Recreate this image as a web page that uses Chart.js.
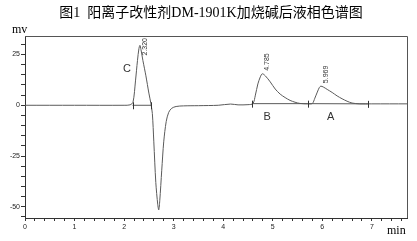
<!DOCTYPE html>
<html>
<head>
<meta charset="utf-8">
<script src="https://cdn.jsdelivr.net/npm/chart.js@4"></script>
<style>
  html, body { margin: 0; padding: 0; background: #fff; }
  #wrap { width: 417px; height: 241px; position: relative; }
</style>
</head>
<body>
<div id="wrap"><canvas id="chromChart" width="417" height="241"></canvas></div>
<script>
// 保留时间 (min) 与信号 (mv)
const times = [0, 1.0, 2.0, 2.12, 2.18, 2.23, 2.27, 2.30, 2.32, 2.34, 2.38, 2.44, 2.50, 2.54, 2.57,
  2.60, 2.64, 2.68, 2.70, 2.72, 2.76, 2.80, 2.85, 2.90, 2.96, 3.05, 3.2, 3.5, 3.9, 4.15, 4.3, 4.5,
  4.6, 4.65, 4.70, 4.75, 4.79, 4.85, 4.95, 5.05, 5.15, 5.25, 5.35, 5.45, 5.55, 5.7, 5.80, 5.85,
  5.90, 5.94, 5.97, 6.02, 6.10, 6.20, 6.30, 6.40, 6.50, 6.60, 6.75, 7.0, 7.71];
const signal = [0, 0, 0, 0.2, 1.5, 12, 22, 28, 29.5, 27.5, 22, 14.5, 6, 1, -4,
  -18, -38, -49, -51.5, -47, -32, -18, -8, -3.5, -1.5, -0.6, -0.3, -0.2, 0, 0.6, 0.2, 0.3,
  0.8, 5, 10.5, 14, 15.5, 14.5, 11.5, 8, 5.5, 3.8, 2.4, 1.5, 0.9, 0.7, 0.9, 3.5,
  6.5, 8.7, 9.4, 9.0, 7.8, 6.3, 4.6, 3.2, 2.0, 1.1, 0.7, 0.7, 0.7];

// 积分基线 (null = 断开)
const baseTimes = [2.17, 2.55, null, 4.58, 5.71, 6.92];
const baseValues = [0, 0, null, 0.8, 0.8, 0.7];

// 峰起止标记
const markerTimes = [2.17, 2.55, 4.58, 5.71, 6.92];
const markerValues = [0, 0, 0.8, 0.8, 0.7];

// 峰顶保留时间标注
const peakTimes = [2.32, 4.785, 5.969];
const peakValues = [29.5, 15.5, 9.4];
const peakTexts = ['2.320', '4.785', '5.969'];

// 峰名称
const nameTexts = ['C', 'B', 'A'];
const nameTimes = [2.06, 4.89, 6.17];
const nameValues = [17.9, -5.8, -5.8];

const title = '图1  阳离子改性剂DM-1901K加烧碱后液相色谱图';

const signalPoints = times.map((t, i) => ({ x: t, y: signal[i] }));
const basePoints = baseTimes.map((t, i) => (t === null ? { x: NaN, y: null } : { x: t, y: baseValues[i] }));

const isInt = v => Math.abs(v - Math.round(v)) < 1e-6;

const decorPlugin = {
  id: 'decor',
  afterDraw(chart) {
    const ctx = chart.ctx;
    const a = chart.chartArea;
    const xs = chart.scales.x, ys = chart.scales.y;
    ctx.save();

    // 上、右边框
    ctx.strokeStyle = '#555';
    ctx.lineWidth = 1;
    ctx.beginPath();
    ctx.moveTo(a.left, a.top + 0.5);
    ctx.lineTo(a.right + 0.5, a.top + 0.5);
    ctx.lineTo(a.right + 0.5, a.bottom);
    ctx.stroke();

    // 峰起止标记
    ctx.strokeStyle = '#333';
    markerTimes.forEach((t, i) => {
      const px = Math.round(xs.getPixelForValue(t)) + 0.5;
      const py = ys.getPixelForValue(markerValues[i]);
      ctx.beginPath();
      ctx.moveTo(px, py - 3);
      ctx.lineTo(px, py + 4);
      ctx.stroke();
    });

    // 保留时间 (竖排)
    ctx.fillStyle = '#333';
    ctx.font = '7px "Liberation Sans", Arial, sans-serif';
    ctx.textBaseline = 'middle';
    ctx.textAlign = 'left';
    peakTexts.forEach((txt, i) => {
      const px = xs.getPixelForValue(peakTimes[i]) + 5;
      let bottom = ys.getPixelForValue(peakValues[i]) - 3;
      const w = ctx.measureText(txt).width;
      if (bottom - w < a.top + 2) bottom = a.top + 2 + w;
      ctx.save();
      ctx.translate(px, bottom);
      ctx.rotate(-Math.PI / 2);
      ctx.fillText(txt, 0, 0);
      ctx.restore();
    });

    // 峰名称
    ctx.font = '11px "Liberation Sans", Arial, sans-serif';
    ctx.textAlign = 'center';
    nameTexts.forEach((txt, i) => {
      ctx.fillText(txt, xs.getPixelForValue(nameTimes[i]), ys.getPixelForValue(nameValues[i]));
    });

    // 标题与单位
    ctx.fillStyle = '#000';
    ctx.font = '14px "Liberation Serif", "Noto Sans CJK SC", serif';
    ctx.textAlign = 'center';
    ctx.fillText(title, 211, 13);
    ctx.font = '12px "Liberation Serif", serif';
    ctx.textAlign = 'left';
    ctx.fillText('mv', 12, 30);
    ctx.fillText('min', 387, 231);
    ctx.restore();
  }
};

new Chart(document.getElementById('chromChart'), {
  type: 'line',
  data: {
    datasets: [{
      label: 'signal',
      data: signalPoints,
      borderColor: '#5a5a5a',
      borderWidth: 1,
      pointRadius: 0,
      tension: 0.3,
      fill: false
    }, {
      label: 'baseline',
      data: basePoints,
      borderColor: '#5a5a5a',
      borderWidth: 1,
      pointRadius: 0,
      spanGaps: false,
      fill: false
    }]
  },
  options: {
    responsive: false,
    animation: false,
    events: [],
    layout: { padding: { top: 36, right: 10, left: 0, bottom: 0 } },
    plugins: { legend: { display: false }, tooltip: { enabled: false }, title: { display: false } },
    scales: {
      x: {
        type: 'linear',
        min: 0,
        max: 7.71,
        afterFit(scale) { scale.height = 23; },
        grid: { drawOnChartArea: false, drawTicks: true, tickLength: 3, color: '#333' },
        border: { display: true, color: '#333', width: 1 },
        ticks: {
          stepSize: 0.2,
          includeBounds: false,
          autoSkip: false,
          maxRotation: 0,
          padding: 2,
          color: '#222',
          font: { size: 7, family: '"Liberation Sans", Arial, sans-serif' },
          callback: v => (isInt(v) ? String(Math.round(v)) : '')
        }
      },
      y: {
        type: 'linear',
        min: -55.5,
        max: 34.1,
        afterFit(scale) { scale.width = 25; },
        grid: { drawOnChartArea: false, drawTicks: true, tickLength: 4, color: '#333' },
        border: { display: true, color: '#333', width: 1 },
        ticks: {
          stepSize: 5,
          includeBounds: false,
          autoSkip: false,
          padding: 1,
          color: '#222',
          font: { size: 7, family: '"Liberation Sans", Arial, sans-serif' },
          callback: v => (Math.round(v) % 25 === 0 ? String(Math.round(v)) : '')
        }
      }
    }
  },
  plugins: [decorPlugin]
});
</script>
</body>
</html>
